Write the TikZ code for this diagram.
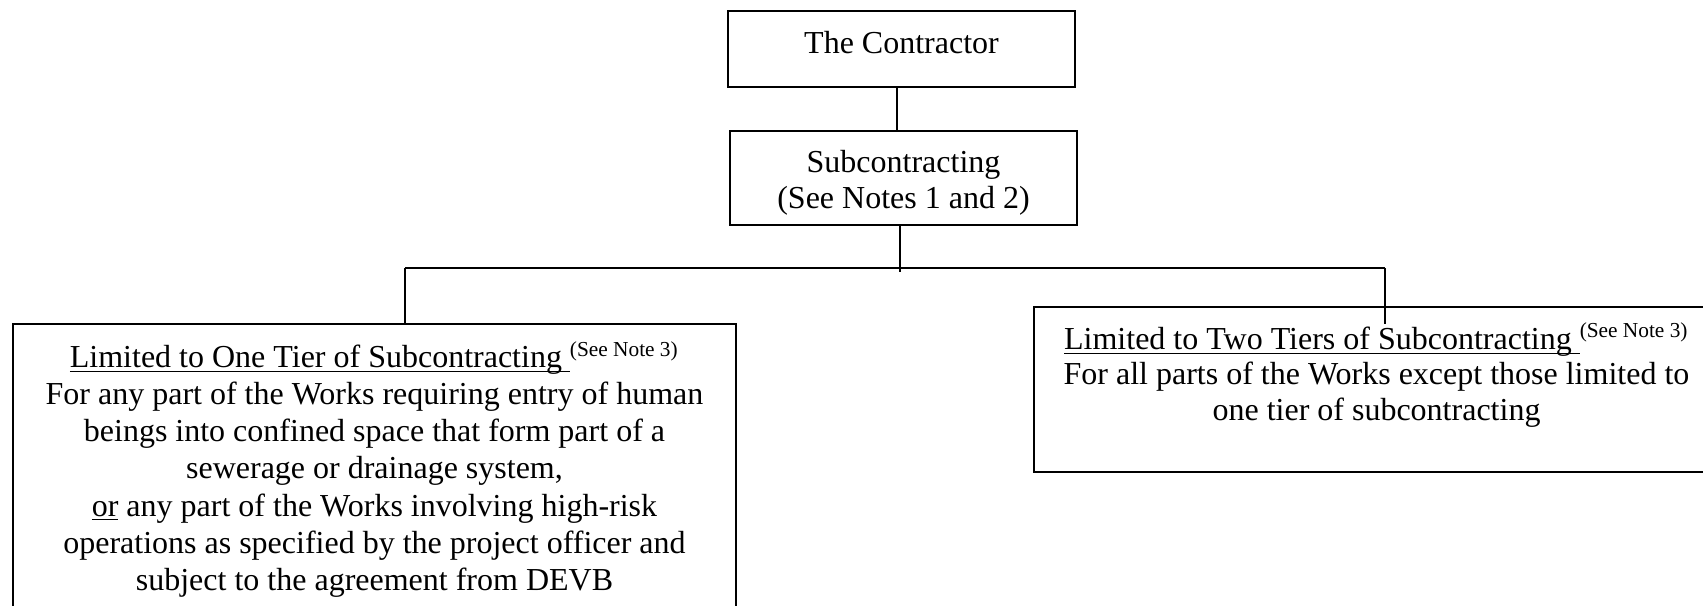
\documentclass[tikz,border=0pt,12pt]{standalone}
\usepackage{fontspec}
\setmainfont{Liberation Serif}
\usetikzlibrary{positioning}
\newcommand{\ulword}[1]{\underline{\smash{#1}}}

\begin{document}
\begin{tikzpicture}[x=0.375pt, y=-0.375pt, line width=0.75pt,
    box/.style={draw, rectangle, inner sep=0pt},
    boxtext/.style={align=center, inner sep=0pt, font=\fontsize{12}{13.3}\selectfont}]
  % \draw[help lines, step=100] (0,0) grid (1703,605);
  \useasboundingbox (0,0) rectangle (1703,605);
  \clip (0,0) rectangle (1703,605);

  \draw (901.5,49) node[box, minimum width=130.1pt, minimum height=28.5pt] (contractor) {};
  \draw (903.5,178) node[box, minimum width=130.1pt, minimum height=35.25pt] (subcon) {};
  \draw (374.5,487) node[box, minimum width=271.1pt, minimum height=122.25pt] (onetier) {};
  \draw (1374.5,389.5) node[box, minimum width=255.4pt, minimum height=61.9pt] (twotier) {};

  \node[boxtext, below=7.5pt of contractor.north] (contractortext) {The Contractor};
  \node[boxtext, below=7.4pt of subcon.north] (subcontext) {Subcontracting\\(See Notes 1 and 2)};
  \node[boxtext, font=\fontsize{12}{13.9}\selectfont, below=6.5pt of onetier.north] (onetiertext)
    {\ulword{Limited to One Tier of Subcontracting\ }\textsuperscript{(See Note 3)}\\
     For any part of the Works requiring entry of human\\
     beings into confined space that form part of a\\
     sewerage or drainage system,\\
     \ulword{or} any part of the Works involving high-risk\\
     operations as specified by the project officer and\\
     subject to the agreement from DEVB};
  \node[boxtext, below=6pt of twotier.north, xshift=0.75pt] (twotiertext)
    {\ulword{Limited to Two Tiers of Subcontracting\ }\textsuperscript{(See Note 3)}\\
     For all parts of the Works except those limited to\\
     one tier of subcontracting};

  \coordinate (busleft) at (405,268);
  \coordinate (busright) at (1385,268);

  \draw ([xshift=-1.8pt]contractor.south) -- ([xshift=-1.8pt]contractor.south |- subcon.north);
  \draw ([xshift=-1.3pt]subcon.south) -- ++(0,46);
  \draw (busleft) -- (busright);
  \draw (busleft) -- (busleft |- onetier.north);
  \draw (busright) -- ++(0,56);
\end{tikzpicture}
\end{document}
